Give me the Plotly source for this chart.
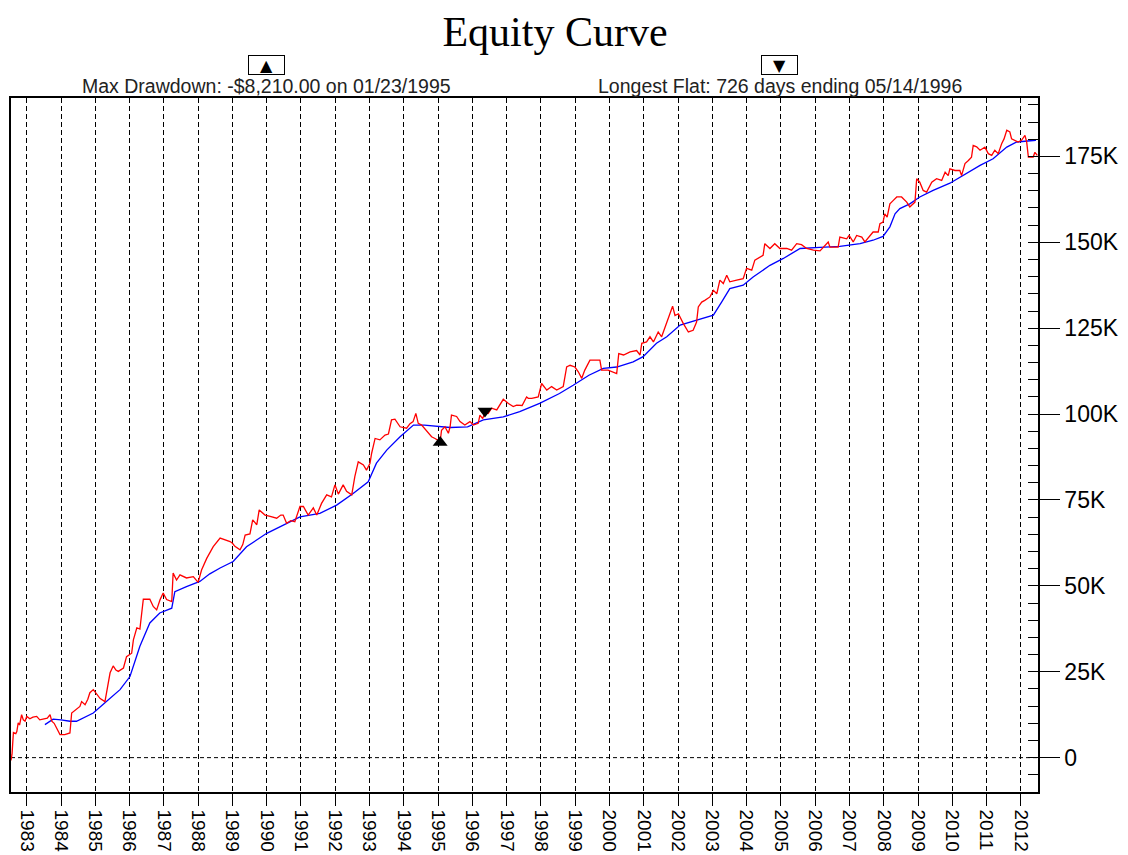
import datetime as dt
import plotly.graph_objects as go

# ---------------- data (decimal year, equity in $K) ----------------
equity_years = [
    1982.54, 1982.57, 1982.61, 1982.68, 1982.71, 1982.75, 1982.79, 1982.85, 1982.90, 1982.95,
    1983.00, 1983.09, 1983.18, 1983.29, 1983.38, 1983.48, 1983.60, 1983.68, 1983.73, 1983.80,
    1983.87, 1983.97, 1984.11, 1984.26, 1984.31, 1984.41, 1984.50, 1984.55, 1984.60, 1984.70,
    1984.78, 1984.84, 1984.94, 1985.04, 1985.14, 1985.28, 1985.33, 1985.43, 1985.52, 1985.60,
    1985.67, 1985.82, 1985.91, 1986.06, 1986.11, 1986.21, 1986.30, 1986.35, 1986.40, 1986.59,
    1986.69, 1986.79, 1986.89, 1986.98, 1987.08, 1987.23, 1987.27, 1987.37, 1987.47, 1987.66,
    1987.86, 1988.00, 1988.10, 1988.25, 1988.34,
    1988.44, 1988.64, 1988.80, 1988.93, 1989.00, 1989.07, 1989.22, 1989.30, 1989.37, 1989.51,
    1989.59, 1989.71, 1989.78, 1989.95, 1990.10, 1990.29, 1990.41, 1990.48, 1990.58, 1990.70,
    1990.82, 1990.97, 1991.07, 1991.21, 1991.36, 1991.46, 1991.60, 1991.75, 1991.89, 1991.99,
    1992.09, 1992.23, 1992.33, 1992.48, 1992.57, 1992.67, 1992.82, 1992.91, 1993.01, 1993.06,
    1993.16, 1993.30, 1993.45, 1993.55, 1993.64, 1993.74, 1993.89,
    1994.08, 1994.18, 1994.27, 1994.35, 1994.42, 1994.52, 1994.67, 1994.81, 1994.91, 1995.06,
    1995.10, 1995.20, 1995.30, 1995.35, 1995.39, 1995.54, 1995.64, 1995.78, 1995.93, 1996.03,
    1996.17, 1996.22, 1996.30, 1996.37, 1996.46, 1996.56, 1996.71, 1996.80, 1996.90, 1997.05,
    1997.19, 1997.29, 1997.45, 1997.58, 1997.63, 1997.73, 1997.92, 1998.02, 1998.17, 1998.31,
    1998.46, 1998.65, 1998.75, 1998.85, 1998.99, 1999.09, 1999.19, 1999.28, 1999.43, 1999.72,
    1999.77, 1999.96, 2000.11, 2000.21, 2000.27,
    2000.41, 2000.60, 2000.79, 2000.89, 2000.94, 2001.08, 2001.18, 2001.28, 2001.42, 2001.52,
    2001.62, 2001.71, 2001.76, 2001.84, 2001.91, 2002.01, 2002.15, 2002.30, 2002.44, 2002.54,
    2002.59, 2002.69, 2002.78, 2002.93, 2003.03, 2003.13, 2003.22, 2003.32, 2003.42, 2003.51,
    2003.71, 2003.90, 2004.00, 2004.15, 2004.24, 2004.39, 2004.48, 2004.53, 2004.68, 2004.82,
    2004.97, 2005.17, 2005.31, 2005.46, 2005.60, 2005.75, 2005.95,
    2006.14, 2006.24, 2006.38, 2006.43, 2006.67, 2006.72, 2006.92, 2006.99, 2007.11, 2007.21,
    2007.36, 2007.45, 2007.60, 2007.69, 2007.84, 2007.89, 2007.98, 2008.03, 2008.10, 2008.18,
    2008.28, 2008.38, 2008.52, 2008.62, 2008.67, 2008.76, 2008.91, 2008.96, 2009.05, 2009.15,
    2009.25, 2009.40, 2009.54, 2009.69, 2009.79, 2009.88, 2009.93, 2010.08, 2010.22, 2010.27,
    2010.37, 2010.47, 2010.56, 2010.61, 2010.71, 2010.81, 2010.95, 2011.05, 2011.15, 2011.24,
    2011.34, 2011.44, 2011.51, 2011.59, 2011.68, 2011.73, 2011.83, 2011.92, 2012.02, 2012.12,
    2012.17, 2012.22, 2012.36, 2012.41, 2012.48,
]
equity_k = [
    -0.8, 1.0, 7.3, 7.0, 7.6, 10.1, 9.5, 12.5, 11.0, 10.6,
    12.0, 11.3, 11.8, 12.0, 11.0, 11.3, 11.5, 12.5, 10.6, 10.0,
    8.7, 6.7, 6.7, 7.2, 13.0, 13.9, 14.5, 14.9, 16.3, 15.4,
    17.0, 18.9, 19.8, 18.5, 17.2, 16.3, 19.3, 24.7, 26.7, 25.5,
    25.1, 26.1, 29.4, 30.4, 34.3, 37.8, 37.4, 42.5, 46.1, 46.1,
    44.0, 43.0, 46.0, 47.9, 46.0, 45.4, 53.7, 51.7, 53.2, 52.3,
    52.7, 51.0, 54.6, 58.0, 59.6,
    61.4, 63.9, 63.3, 62.9, 62.4, 61.5, 60.5, 62.0, 64.8, 65.1,
    69.2, 67.8, 72.1, 70.6, 70.2, 69.7, 70.6, 70.6, 68.2, 69.0,
    68.7, 73.1, 73.1, 70.6, 72.7, 70.6, 74.0, 76.5, 75.9, 79.4,
    76.7, 79.4, 77.5, 76.5, 81.8, 86.1, 85.2, 83.7, 85.6, 88.6,
    92.9, 92.5, 93.9, 94.2, 98.3, 98.5, 96.3,
    95.9, 97.2, 97.8, 100.2, 97.3, 96.8, 94.9, 93.4, 92.9, 92.0,
    95.3, 96.3, 94.4, 96.3, 99.7, 99.3, 97.8, 96.8, 97.8, 96.8,
    97.3, 99.7, 98.7, 100.5, 100.2, 101.7, 101.2, 102.6, 104.3, 103.1,
    102.2, 102.6, 102.5, 105.0, 104.6, 104.6, 105.0, 108.9, 107.0, 108.0,
    107.0, 108.0, 113.7, 114.2, 113.7, 112.3, 110.4, 112.8, 115.7, 115.7,
    112.8, 112.8, 112.3, 111.8, 117.6,
    117.2, 118.1, 118.5, 117.2, 120.6, 121.0, 122.5, 121.0, 123.9, 122.5,
    125.4, 127.8, 129.3, 131.4, 128.7, 129.2, 126.4, 123.9, 124.4, 126.8,
    131.2, 132.6, 133.1, 134.1, 136.0, 135.0, 139.0, 138.0, 140.4, 138.5,
    139.0, 139.4, 142.4, 141.9, 144.8, 145.7, 146.2, 149.6, 148.2, 149.6,
    148.2, 148.2, 147.7, 149.6, 149.3, 148.2, 147.7,
    147.5, 148.6, 150.1, 148.6, 148.6, 151.5, 151.0, 152.0, 150.1, 152.0,
    151.5, 150.1, 152.0, 153.0, 153.0, 155.4, 155.9, 158.3, 157.3, 161.2,
    162.2, 163.2, 163.2, 162.2, 161.7, 160.3, 161.7, 168.5, 167.5, 165.1,
    164.6, 167.5, 168.5, 168.0, 170.4, 169.4, 171.4, 170.9, 170.9, 169.4,
    172.9, 173.8, 174.8, 178.2, 177.8, 176.8, 177.7, 175.8, 175.3, 176.8,
    175.8, 178.7, 180.1, 182.6, 182.1, 180.1, 179.7, 179.2, 179.7, 181.1,
    179.2, 174.8, 174.8, 176.2, 175.3,
]

avg_years = [
    1983.53, 1983.77, 1984.00, 1984.26, 1984.45, 1984.94, 1985.33, 1985.72, 1986.01, 1986.30,
    1986.59, 1986.88, 1987.23, 1987.32, 1987.66, 1987.96, 1988.05, 1988.34, 1988.64, 1989.02,
    1989.41, 1990.00, 1990.58, 1990.97, 1991.55, 1992.04, 1992.52, 1992.96, 1993.20, 1993.50,
    1993.89, 1994.28, 1994.60, 1995.35, 1995.86, 1996.32, 1996.90, 1997.38, 1997.96, 1998.54,
    1998.94, 1999.40, 1999.82, 2000.21, 2000.69, 2000.98, 2001.37, 2001.67, 2002.06, 2002.55,
    2003.03, 2003.27, 2003.51, 2003.90, 2004.19, 2004.68, 2005.07, 2005.56, 2005.94, 2006.14,
    2006.72, 2007.31, 2007.69, 2007.98, 2008.18, 2008.33, 2008.47, 2008.76, 2009.05, 2009.44,
    2009.93, 2010.42, 2010.81, 2011.19, 2011.59, 2011.88, 2012.44,
]
avg_k = [
    9.6, 11.2, 11.0, 10.6, 10.6, 13.0, 16.4, 19.8, 23.6, 32.4,
    39.2, 42.1, 43.5, 48.3, 49.8, 50.8, 51.3, 53.5, 55.2, 57.1,
    61.4, 65.3, 68.2, 70.1, 71.1, 73.5, 76.9, 80.3, 85.7, 89.5,
    93.4, 96.8, 96.8, 96.1, 96.3, 98.3, 99.2, 100.7, 103.1, 106.0,
    108.4, 111.3, 113.3, 113.7, 115.2, 116.7, 120.6, 122.5, 125.9, 127.3,
    128.8, 132.6, 136.5, 137.5, 139.9, 143.3, 145.3, 148.2, 148.5, 148.5,
    148.8, 149.6, 150.6, 151.7, 154.5, 158.3, 159.8, 161.2, 163.2, 165.1,
    167.2, 170.0, 172.4, 174.3, 177.7, 179.2, 179.7,
]

# event markers
max_dd_date = "1995-01-23"
max_dd_marker_k = 91.7
flat_end_date = "1996-05-14"
flat_end_marker_k = 100.9

year_ticks = list(range(1983, 2013))
y_tick_vals = [0, 25000, 50000, 75000, 100000, 125000, 150000, 175000]
y_tick_text = ["0", "25K", "50K", "75K", "100K", "125K", "150K", "175K"]

title_text = "Equity Curve"
dd_text = "Max Drawdown: -$8,210.00 on 01/23/1995"
flat_text = "Longest Flat: 726 days ending 05/14/1996"


def to_date(y):
    yr = int(y)
    start = dt.datetime(yr, 1, 1)
    end = dt.datetime(yr + 1, 1, 1)
    return start + (end - start) * (y - yr)


eq_x = [to_date(v) for v in equity_years]
eq_y = [v * 1000 for v in equity_k]
av_x = [to_date(v) for v in avg_years]
av_y = [v * 1000 for v in avg_k]

fig = go.Figure()
fig.add_trace(go.Scatter(x=av_x, y=av_y, mode="lines",
                         line=dict(color="#0000FF", width=1.3), name="Average"))
fig.add_trace(go.Scatter(x=eq_x, y=eq_y, mode="lines",
                         line=dict(color="#FF0000", width=1.3), name="Equity"))
fig.add_trace(go.Scatter(x=[max_dd_date], y=[max_dd_marker_k * 1000], mode="markers",
                         marker=dict(symbol="triangle-up", size=13, color="black"),
                         name="Max Drawdown"))
fig.add_trace(go.Scatter(x=[flat_end_date], y=[flat_end_marker_k * 1000], mode="markers",
                         marker=dict(symbol="triangle-down", size=13, color="black"),
                         name="Longest Flat"))

# dashed zero line
fig.add_shape(type="line", xref="paper", x0=0, x1=1, yref="y", y0=0, y1=0,
              line=dict(color="black", width=1, dash="4px,3px"), layer="below")

# page body has an 8px margin: figure is drawn offset by (8, 8) in the window
OFF = 8
WIN_W, WIN_H = 1128, 855
W, H = WIN_W - OFF, WIN_H - OFF
PLOT_L, PLOT_R, PLOT_T, PLOT_B = 11, 1038, 98, 792   # window pixels
L, T = PLOT_L - OFF, PLOT_T - OFF
R, B = WIN_W - PLOT_R, WIN_H - PLOT_B
pw, ph = PLOT_R - PLOT_L, PLOT_B - PLOT_T


def px_x(px):
    return (px - PLOT_L) / pw


def px_y(py):
    return (PLOT_B - py) / ph


sans = "Liberation Sans, Arial, sans-serif"

fig.add_annotation(text=dd_text, xref="paper", yref="paper", x=px_x(266), y=px_y(86),
                   xanchor="center", yanchor="middle", showarrow=False,
                   font=dict(family=sans, size=19.5, color="#222"))
fig.add_annotation(text=flat_text, xref="paper", yref="paper", x=px_x(780), y=px_y(86),
                   xanchor="center", yanchor="middle", showarrow=False,
                   font=dict(family=sans, size=19.5, color="#222"))
for cx, sym in [(266.5, "▲"), (779.5, "▼")]:
    fig.add_annotation(text=sym, xref="paper", yref="paper", x=px_x(cx), y=px_y(65.5),
                       xanchor="center", yanchor="middle", showarrow=False,
                       width=35, height=18, bordercolor="black", borderwidth=1,
                       borderpad=0, bgcolor="white",
                       font=dict(family="DejaVu Sans", size=16, color="black"))

fig.update_layout(
    width=W, height=H,
    margin=dict(l=L, r=R, t=T, b=B, pad=0, autoexpand=False),
    paper_bgcolor="white", plot_bgcolor="white",
    showlegend=False,
    title=dict(text=title_text, x=(555 - OFF) / W, xanchor="center",
               y=1 - (31 - OFF) / H, yanchor="middle",
               font=dict(family="Liberation Serif, Times New Roman, serif", size=42, color="black")),
    xaxis=dict(
        type="date",
        automargin=False,
        range=[to_date(1982.54), to_date(2012.5)],
        tickvals=[dt.datetime(y, 1, 1) for y in year_ticks],
        ticktext=[str(y) for y in year_ticks],
        tickangle=90,
        ticks="outside", ticklen=12, tickcolor="black", tickwidth=1,
        showgrid=True, gridcolor="black", gridwidth=1, griddash="5px,3px",
        showline=True, linecolor="black", linewidth=1.5, mirror=True,
        zeroline=False,
        tickfont=dict(family=sans, size=19, color="black"),
    ),
    yaxis=dict(
        side="right",
        automargin=False,
        range=[-10000, 192000],
        tickvals=y_tick_vals, ticktext=y_tick_text,
        ticks="outside", ticklen=20, tickcolor="black", tickwidth=1,
        minor=dict(dtick=5000, tick0=0, ticks="inside", ticklen=10, tickcolor="black", showgrid=False),
        showgrid=False, zeroline=False,
        showline=True, linecolor="black", linewidth=1.5, mirror=True,
        tickfont=dict(family=sans, size=23, color="black"),
    ),
)

fig.write_html("out.html")
